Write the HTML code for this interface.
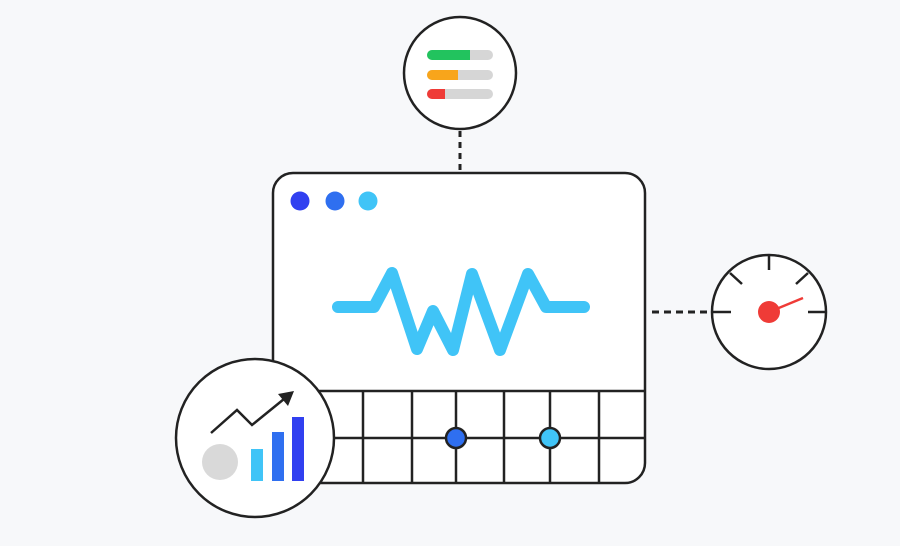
<!DOCTYPE html>
<html><head><style>html,body{margin:0;padding:0;background:#f7f8fa;}svg{display:block}</style></head>
<body>
<svg width="900" height="546" viewBox="0 0 900 546" xmlns="http://www.w3.org/2000/svg">
<rect width="900" height="546" fill="#f7f8fa"/>
<!-- dashed connectors -->
<line x1="460" y1="131" x2="460" y2="173" stroke="#222" stroke-width="3" stroke-dasharray="6,5"/>
<line x1="652" y1="312" x2="712" y2="312" stroke="#222" stroke-width="3" stroke-dasharray="7,5"/>
<!-- main window -->
<rect x="273" y="173" width="372" height="310" rx="20" fill="#fff" stroke="#222" stroke-width="2.5"/>
<circle cx="300" cy="201" r="9.5" fill="#3140f0"/>
<circle cx="335" cy="201" r="9.5" fill="#2f6ff0"/>
<circle cx="368" cy="201" r="9.5" fill="#40c4f7"/>
<polyline points="338,307 374,307 392,273 417,349 433,311 453,350 472,274 500,350 528,274 546,307 584,307" fill="none" stroke="#40c4f7" stroke-width="12" stroke-linecap="round" stroke-linejoin="round"/>
<!-- grid -->
<g stroke="#222" stroke-width="2.5">
<line x1="273" y1="391" x2="645" y2="391"/>
<line x1="273" y1="438" x2="645" y2="438"/>
<line x1="316" y1="391" x2="316" y2="483"/>
<line x1="363" y1="391" x2="363" y2="483"/>
<line x1="412" y1="391" x2="412" y2="483"/>
<line x1="456" y1="391" x2="456" y2="483"/>
<line x1="504" y1="391" x2="504" y2="483"/>
<line x1="550" y1="391" x2="550" y2="483"/>
<line x1="599" y1="391" x2="599" y2="483"/>
</g>
<circle cx="456" cy="438" r="10" fill="#2f6ff0" stroke="#222" stroke-width="2.5"/>
<circle cx="550" cy="438" r="10" fill="#40c4f7" stroke="#222" stroke-width="2.5"/>
<!-- top circle -->
<circle cx="460" cy="73" r="56" fill="#fff" stroke="#222" stroke-width="2.5"/>
<g stroke-linecap="round" stroke-width="10">
<line x1="432" y1="55" x2="488" y2="55" stroke="#d6d6d6"/>
<line x1="432" y1="75" x2="488" y2="75" stroke="#d6d6d6"/>
<line x1="432" y1="94" x2="488" y2="94" stroke="#d6d6d6"/>
</g>
<path d="M432,50 h38 v10 h-38 a5,5 0 0 1 0,-10z" fill="#22c35e"/>
<path d="M432,70 h26 v10 h-26 a5,5 0 0 1 0,-10z" fill="#f8a51b"/>
<path d="M432,89 h13 v10 h-13 a5,5 0 0 1 0,-10z" fill="#ef3b37"/>
<!-- gauge -->
<circle cx="769" cy="312" r="57" fill="#fff" stroke="#222" stroke-width="2.5"/>
<g stroke="#222" stroke-width="2.5">
<line x1="712" y1="312" x2="731" y2="312"/>
<line x1="808" y1="312" x2="826" y2="312"/>
<line x1="769" y1="255" x2="769" y2="270"/>
<line x1="730" y1="273" x2="742" y2="284"/>
<line x1="808" y1="273" x2="796" y2="284"/>
</g>
<line x1="769" y1="312" x2="803" y2="298" stroke="#ef3b37" stroke-width="2.5"/>
<circle cx="769" cy="312" r="11" fill="#ef3b37"/>
<!-- chart circle -->
<circle cx="255" cy="438" r="79" fill="#fff" stroke="#222" stroke-width="2.5"/>
<circle cx="220" cy="462" r="18" fill="#d9d9d9"/>
<rect x="251" y="449" width="12" height="32" fill="#40c4f7"/>
<rect x="272" y="432" width="12" height="49" fill="#2f6ff0"/>
<rect x="292" y="417" width="12" height="64" fill="#3140f0"/>
<polyline points="211,433 237,410 252,425 284,399" fill="none" stroke="#222" stroke-width="2.5"/>
<polygon points="294,391 278,394 288,406" fill="#222"/>
</svg>
</body></html>
